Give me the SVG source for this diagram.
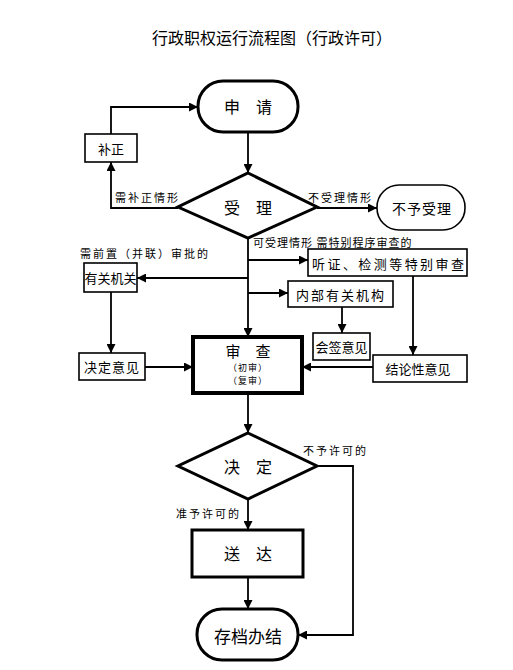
<svg xmlns="http://www.w3.org/2000/svg" width="513" height="670" viewBox="0 0 513 670">
<defs>
<marker id="arr" markerUnits="userSpaceOnUse" markerWidth="9" markerHeight="9" refX="9" refY="4.5" orient="auto">
<path d="M0,0 L9,4.5 L0,9 z" fill="#000"/>
</marker>
<style>
text{font-family:"Noto Sans CJK SC","Noto Sans",sans-serif;fill:#000;text-anchor:middle;dominant-baseline:central}
.big{fill:#fff;stroke:#000;stroke-width:3}
.small{fill:#fff;stroke:#000;stroke-width:1.6}
.c{fill:none;stroke:#000;stroke-width:1.8;marker-end:url(#arr)}
.lbl{font-size:11px;letter-spacing:2px;text-anchor:start}
.t13{font-size:13px}
.t16{font-size:16px}
.sub{font-size:9px;letter-spacing:1px}
</style>
</defs>
<rect width="513" height="670" fill="#fff"/>
<text x="272" y="37" style="font-size:16px">行政职权运行流程图（行政许可）</text>

<g id="connectors">
<path class="c" d="M248,132 V173"/>
<path class="c" d="M178,208 H111 V162"/>
<path class="c" d="M111,134 V107 H198"/>
<path class="c" d="M317,208 H377"/>
<path class="c" d="M248,238 V337"/>
<path class="c" d="M248,260 H308"/>
<path class="c" d="M248,278 H137"/>
<path class="c" d="M248,293 H288"/>
<path class="c" d="M342,307 V333"/>
<path class="c" d="M413,276 V355"/>
<path class="c" d="M373,367 H302"/>
<path class="c" d="M111,292 V353"/>
<path class="c" d="M145,367 H193"/>
<path class="c" d="M248,393 V433"/>
<path class="c" d="M248,499 V530"/>
<path class="c" d="M248,577 V609"/>
<path class="c" d="M317,466 H353 V635 H298"/>
</g>

<g id="labels">
<text class="lbl" x="115" y="197">需补正情形</text>
<text class="lbl" x="308" y="197">不受理情形</text>
<text class="lbl" x="253" y="242" style="letter-spacing:1px">可受理情形 需特别程序审查的</text>
<text class="lbl" x="80" y="253">需前置（并联）审批的</text>
<text class="lbl" x="303" y="450">不予许可的</text>
<text class="lbl" x="176" y="513">准予许可的</text>
</g>

<g id="shenqing">
<rect class="big" x="198" y="81" width="100" height="51" rx="25"/>
<text class="t16" x="248" y="106">申　请</text>
</g>
<g id="buzheng">
<rect class="small" x="85" y="134" width="52" height="28"/>
<text class="t13" x="111" y="148">补正</text>
</g>
<g id="shouli">
<path class="big" d="M248,173 L317,207 L248,238 L178,207 z"/>
<text class="t16" x="248" y="207">受　理</text>
</g>
<g id="buyushouli">
<rect class="small" x="377" y="185" width="88" height="45" rx="22"/>
<text x="422" y="208" style="font-size:14px;letter-spacing:1px">不予受理</text>
</g>
<g id="tingzheng">
<rect class="small" x="308" y="249" width="159" height="27"/>
<text class="t13" x="388" y="263" textLength="152" lengthAdjust="spacing">听证、检测等特别审查</text>
</g>
<g id="youguanjiguan">
<rect class="small" x="84" y="263" width="53" height="29"/>
<text class="t13" x="110.5" y="277.5">有关机关</text>
</g>
<g id="neibu">
<rect class="small" x="288" y="281" width="105" height="26"/>
<text class="t13" x="341" y="294" style="letter-spacing:2px">内部有关机构</text>
</g>
<g id="shencha">
<rect class="big" x="193" y="337" width="109" height="56" style="stroke-width:4"/>
<text x="248" y="350" style="font-size:15px">审　查</text>
<text class="sub" x="248" y="367">（初审）</text>
<text class="sub" x="248" y="380">（复审）</text>
</g>
<g id="huiqian">
<rect class="small" x="313" y="333" width="57" height="27"/>
<text class="t13" x="341.5" y="346.5">会签意见</text>
</g>
<g id="jielun">
<rect class="small" x="373" y="355" width="94" height="27"/>
<text class="t13" x="418" y="368.5">结论性意见</text>
</g>
<g id="jueding_yijian">
<rect class="small" x="79" y="353" width="66" height="27"/>
<text class="t13" x="112" y="366.5" style="letter-spacing:1px">决定意见</text>
</g>
<g id="jueding">
<path class="big" d="M248,433 L317,466 L248,499 L178,466 z"/>
<text class="t16" x="248" y="466">决　定</text>
</g>
<g id="songda">
<rect class="big" x="192" y="530" width="111" height="47"/>
<text class="t16" x="248" y="553">送　达</text>
</g>
<g id="cundang">
<rect class="big" x="197" y="609" width="101" height="51" rx="25"/>
<text x="248" y="635" style="font-size:17px">存档办结</text>
</g>
</svg>
